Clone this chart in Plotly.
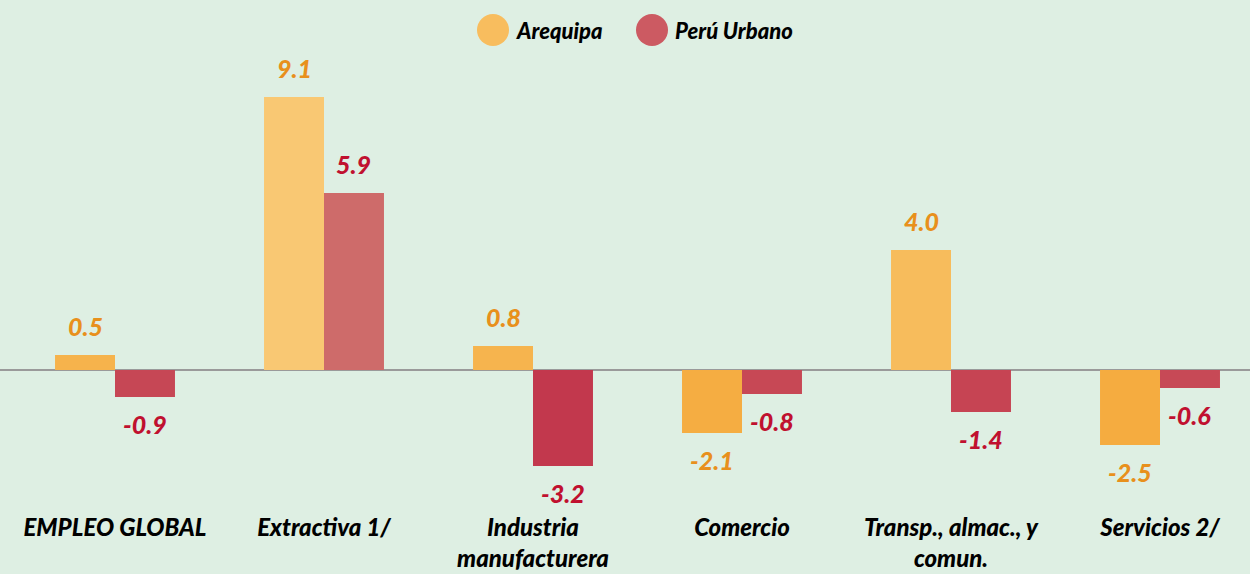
import plotly.graph_objects as go

categories = ["EMPLEO GLOBAL", "Extractiva 1/", "Industria<br>manufacturera", "Comercio",
              "Transp., almac., y<br>comun.", "Servicios 2/"]
arequipa = [0.5, 9.1, 0.8, -2.1, 4.0, -2.5]
peru_urbano = [-0.9, 5.9, -3.2, -0.8, -1.4, -0.6]

FONT = "Lato"
BG = "#deefe3"
AQ_TXT = "#e8901c"
PU_TXT = "#c0102f"

YMIN, YMAX = -4.5, 10.33
BARGAP = 0.426
MT, MB = 60, 69
PH = 574 - MT - MB

aq_scale = [[0.0, "#f39c26"], [(0 - YMIN) / (YMAX - YMIN), "#f6b24a"], [1.0, "#fde4a6"]]
pu_scale = [[0.0, "#b81238"], [(0 - YMIN) / (YMAX - YMIN), "#c84d58"],
            [(5.9 - YMIN) / (YMAX - YMIN), "#d4887b"], [1.0, "#d9988a"]]

fig = go.Figure()
fig.add_trace(go.Bar(
    x=categories, y=arequipa, name="Arequipa",
    marker=dict(color=[v / 2 for v in arequipa], colorscale=aq_scale, cmin=YMIN, cmax=YMAX,
                line=dict(width=0)),
    showlegend=False, hoverinfo="skip",
))
fig.add_trace(go.Bar(
    x=categories, y=peru_urbano, name="Perú Urbano",
    marker=dict(color=[v / 2 for v in peru_urbano], colorscale=pu_scale, cmin=YMIN, cmax=YMAX,
                line=dict(width=0)),
    showlegend=False, hoverinfo="skip",
))

# value labels placed at each bar's end, shifted outward
half = (1 - BARGAP) / 2
for series, col, off in [(arequipa, AQ_TXT, -half / 2), (peru_urbano, PU_TXT, half / 2)]:
    for i, v in enumerate(series):
        fig.add_annotation(x=i + off, y=v, xref="x", yref="y", text=f"{v:.1f}",
                           showarrow=False, yshift=29 if v >= 0 else -27,
                           font=dict(family=FONT, size=25, color=col, weight=900, style="italic"))

# legend (manual, large circles)
legend_items = [("Arequipa", "#f8bd5e", 493), ("Perú Urbano", "#cc5a62", 652)]
ly = 1 + (MT - 30) / PH
for name, col, cx in legend_items:
    fig.add_shape(type="circle", xref="paper", yref="paper",
                  xsizemode="pixel", ysizemode="pixel",
                  xanchor=cx / 1250, yanchor=ly, x0=-16, x1=16, y0=-16, y1=16,
                  fillcolor=col, line=dict(width=0), layer="above")
    fig.add_annotation(xref="paper", yref="paper", x=(cx + 21) / 1250, y=ly,
                       text=name, showarrow=False, xanchor="left", yanchor="middle",
                       font=dict(family=FONT, size=22, color="#000000", weight=900, style="italic"))

fig.update_layout(
    width=1250, height=574,
    paper_bgcolor=BG, plot_bgcolor=BG,
    margin=dict(l=0, r=0, t=MT, b=MB),
    barmode="group", bargap=BARGAP, bargroupgap=0,
    showlegend=False,
    xaxis=dict(range=[-115 / 209, (1250 - 115) / 209], showgrid=False, zeroline=False,
               showline=False, ticks="", ticklabelstandoff=6,
               tickfont=dict(family=FONT, size=24, color="#000000", weight=900, style="italic")),
    yaxis=dict(range=[YMIN, YMAX], showgrid=False, zeroline=True, zerolinecolor="#9a9a9a",
               zerolinewidth=2, showticklabels=False, showline=False, ticks=""),
)

fig.write_html("out.html", config={"displayModeBar": False},
               post_script="document.body.style.margin='0';")
